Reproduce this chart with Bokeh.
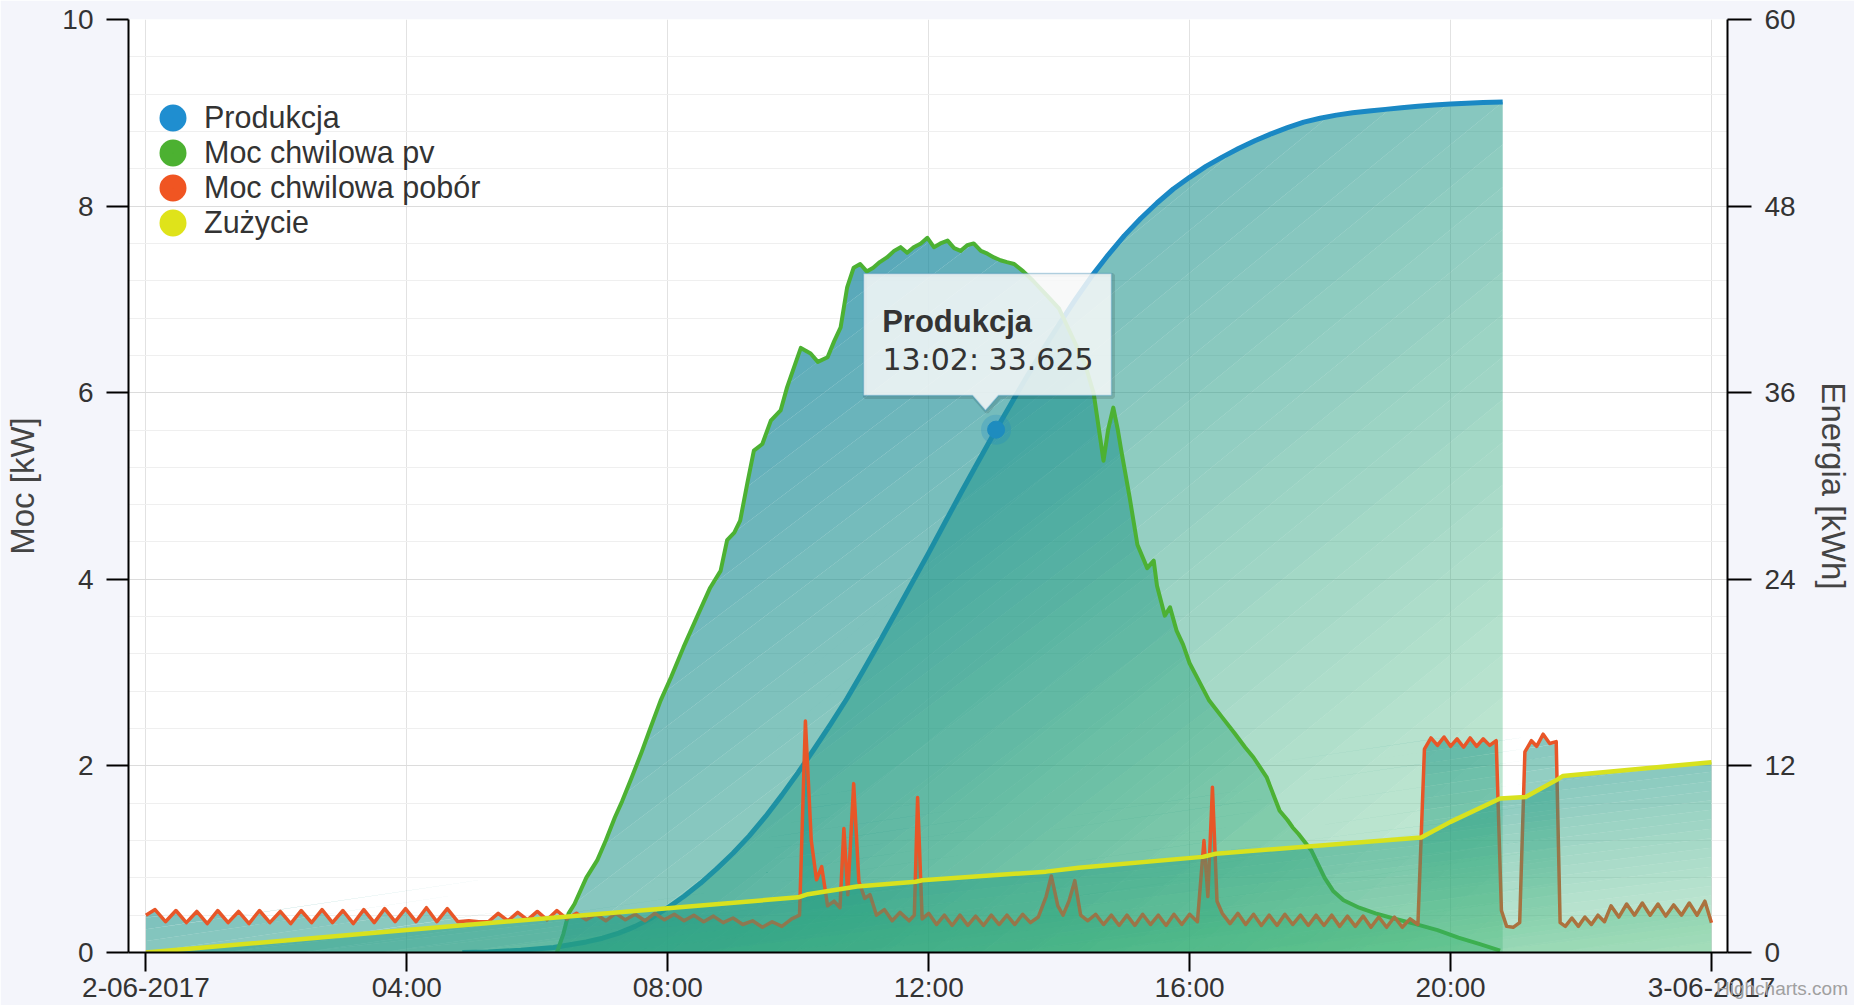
from bokeh.plotting import figure
from bokeh.layouts import column
from bokeh.models import (Range1d, LinearAxis, FixedTicker, SingleIntervalTicker, Div,
                          Legend, LegendItem, PolyAnnotation, Label, ColumnDataSource)
from bokeh.embed import file_html
from bokeh.resources import INLINE

# ---------------- data (hours of the day, values) ----------------
# Produkcja: cumulative PV energy [kWh] (right axis)
produkcja_points = [
    (4.85, 0.00), (5.25, 0.04), (5.75, 0.14), (6.25, 0.32), (6.50, 0.50), (6.75, 0.68),
    (7.00, 0.92), (7.25, 1.25), (7.50, 1.68), (7.75, 2.22), (8.00, 2.88), (8.25, 3.62),
    (8.50, 4.45), (8.75, 5.38), (9.00, 6.38), (9.25, 7.50), (9.50, 8.75), (9.75, 10.12),
    (10.00, 11.58), (10.25, 13.12), (10.50, 14.70), (10.75, 16.35), (11.00, 18.15),
    (11.25, 20.00), (11.50, 21.90), (11.75, 23.80), (12.00, 25.70), (12.25, 27.65),
    (12.50, 29.60), (12.75, 31.50), (13.0333, 33.625), (13.25, 35.20), (13.50, 37.00),
    (13.75, 38.75), (14.00, 40.40), (14.25, 42.00), (14.50, 43.50), (14.75, 44.85),
    (15.00, 46.10), (15.25, 47.20), (15.50, 48.20), (15.75, 49.10), (16.00, 49.85),
    (16.25, 50.55), (16.50, 51.15), (16.75, 51.70), (17.00, 52.20), (17.25, 52.65),
    (17.50, 53.05), (17.75, 53.40), (18.00, 53.65), (18.25, 53.85), (18.50, 54.00),
    (18.75, 54.12), (19.00, 54.22), (19.25, 54.32), (19.50, 54.42), (19.75, 54.50),
    (20.00, 54.57), (20.25, 54.62), (20.50, 54.66), (20.80, 54.70),
]

# Moc chwilowa pv [kW] (left axis)
pv_hours = [6.30, 6.40, 6.48, 6.57, 6.75, 6.92, 7.05, 7.19, 7.30, 7.45, 7.60, 7.72, 7.89, 8.05,
            8.24, 8.45, 8.65, 8.81, 8.91, 9.02, 9.11, 9.22, 9.32, 9.45, 9.58, 9.73, 9.83, 9.95,
            10.04, 10.19, 10.30, 10.45, 10.55, 10.65, 10.75, 10.85, 10.95, 11.05, 11.15, 11.25,
            11.36, 11.47, 11.57, 11.67, 11.77, 11.88, 11.98, 12.08, 12.18, 12.29, 12.39, 12.49,
            12.59, 12.69, 12.80, 12.90, 13.00, 13.10, 13.20, 13.31, 13.45, 13.60, 13.80, 14.00,
            14.20, 14.40, 14.53, 14.68, 14.75, 14.83, 14.90, 14.95, 15.08, 15.20, 15.35, 15.45,
            15.50, 15.62, 15.70, 15.80, 15.90, 16.00, 16.15, 16.30, 16.50, 16.69, 16.85, 16.98,
            17.18, 17.38, 17.50, 17.58, 17.67, 17.87, 18.07, 18.20, 18.36, 18.60, 18.85, 19.10,
            19.44, 19.80, 20.12, 20.45, 20.76]
pv_kw = [0.00, 0.20, 0.42, 0.52, 0.80, 0.99, 1.20, 1.45, 1.62, 1.88, 2.15, 2.38, 2.70, 2.95,
         3.27, 3.60, 3.91, 4.09, 4.42, 4.50, 4.63, 5.03, 5.38, 5.45, 5.70, 5.81, 6.06, 6.30,
         6.48, 6.42, 6.33, 6.38, 6.55, 6.70, 7.13, 7.34, 7.38, 7.30, 7.34, 7.40,
         7.45, 7.52, 7.56, 7.50, 7.56, 7.60, 7.66, 7.56, 7.60, 7.63, 7.55, 7.52,
         7.58, 7.60, 7.52, 7.49, 7.45, 7.42, 7.40, 7.38, 7.30, 7.20, 7.05, 6.90,
         6.60, 6.30, 5.99, 5.27, 5.60, 5.84, 5.60, 5.39, 4.88, 4.37, 4.12, 4.20,
         3.93, 3.61, 3.70, 3.45, 3.30, 3.10, 2.90, 2.70, 2.52, 2.35, 2.20, 2.09,
         1.88, 1.52, 1.42, 1.34, 1.27, 1.09, 0.80, 0.66, 0.56, 0.48, 0.42, 0.37,
         0.31, 0.24, 0.16, 0.09, 0.02]

# Moc chwilowa pobór [kW] (left axis)
pobor_points = [
    (0.00, 0.40), (0.14, 0.46), (0.30, 0.33), (0.46, 0.45), (0.62, 0.32), (0.78, 0.44),
    (0.94, 0.31), (1.10, 0.45), (1.26, 0.32), (1.42, 0.44), (1.58, 0.31), (1.74, 0.45),
    (1.90, 0.32), (2.06, 0.44), (2.22, 0.31), (2.38, 0.45), (2.54, 0.32), (2.70, 0.46),
    (2.86, 0.32), (3.02, 0.45), (3.18, 0.31), (3.34, 0.46), (3.50, 0.32), (3.66, 0.47),
    (3.82, 0.33), (3.98, 0.47), (4.14, 0.33), (4.30, 0.48), (4.46, 0.33), (4.62, 0.47),
    (4.78, 0.33), (4.95, 0.34), (5.10, 0.33), (5.25, 0.33), (5.40, 0.42), (5.55, 0.34),
    (5.70, 0.43), (5.85, 0.35), (6.00, 0.44), (6.15, 0.35), (6.30, 0.45), (6.45, 0.36),
    (6.60, 0.42), (6.75, 0.35), (6.90, 0.41), (7.05, 0.34), (7.20, 0.42), (7.35, 0.35),
    (7.50, 0.41), (7.65, 0.34), (7.80, 0.42), (7.95, 0.35), (8.10, 0.41), (8.25, 0.34),
    (8.40, 0.40), (8.55, 0.33), (8.70, 0.39), (8.85, 0.32), (9.00, 0.37), (9.15, 0.30),
    (9.30, 0.34), (9.45, 0.27), (9.60, 0.33), (9.75, 0.28), (9.90, 0.36), (10.02, 0.40),
    (10.11, 2.48), (10.20, 1.20), (10.28, 0.78), (10.36, 0.92), (10.45, 0.50), (10.55, 0.55),
    (10.64, 0.48), (10.70, 1.33), (10.76, 0.62), (10.85, 1.81), (10.93, 0.76), (11.02, 0.58),
    (11.10, 0.62), (11.20, 0.40), (11.32, 0.46), (11.44, 0.34), (11.56, 0.43), (11.70, 0.34),
    (11.78, 0.40), (11.83, 1.66), (11.90, 0.36), (12.00, 0.42), (12.12, 0.30), (12.24, 0.40),
    (12.36, 0.29), (12.48, 0.40), (12.60, 0.29), (12.72, 0.39), (12.84, 0.29), (12.96, 0.40),
    (13.08, 0.30), (13.20, 0.40), (13.32, 0.30), (13.44, 0.41), (13.56, 0.32), (13.68, 0.38),
    (13.80, 0.60), (13.88, 0.82), (13.98, 0.50), (14.06, 0.40), (14.15, 0.55), (14.24, 0.77),
    (14.33, 0.40), (14.44, 0.34), (14.56, 0.41), (14.68, 0.30), (14.80, 0.40), (14.92, 0.29),
    (15.04, 0.40), (15.16, 0.29), (15.28, 0.41), (15.40, 0.30), (15.52, 0.40), (15.64, 0.29),
    (15.76, 0.41), (15.88, 0.30), (16.00, 0.41), (16.12, 0.33), (16.22, 1.20), (16.28, 0.60),
    (16.35, 1.77), (16.42, 0.55), (16.50, 0.42), (16.62, 0.31), (16.74, 0.42), (16.86, 0.30),
    (16.98, 0.41), (17.10, 0.29), (17.22, 0.40), (17.34, 0.29), (17.46, 0.41), (17.58, 0.30),
    (17.70, 0.40), (17.82, 0.29), (17.94, 0.40), (18.06, 0.29), (18.18, 0.40), (18.30, 0.28),
    (18.42, 0.39), (18.54, 0.28), (18.66, 0.39), (18.78, 0.27), (18.90, 0.38), (19.02, 0.27),
    (19.14, 0.38), (19.26, 0.27), (19.38, 0.36), (19.50, 0.30), (19.60, 2.18), (19.70, 2.30),
    (19.80, 2.22), (19.90, 2.31), (20.00, 2.21), (20.10, 2.29), (20.20, 2.20), (20.30, 2.30),
    (20.40, 2.21), (20.50, 2.29), (20.60, 2.22), (20.70, 2.27), (20.78, 0.45), (20.86, 0.28),
    (20.96, 0.27), (21.06, 0.32), (21.14, 2.15), (21.24, 2.27), (21.32, 2.21), (21.42, 2.34),
    (21.52, 2.24), (21.62, 2.26), (21.68, 0.32), (21.76, 0.28), (21.86, 0.37), (21.96, 0.28),
    (22.06, 0.38), (22.16, 0.30), (22.26, 0.40), (22.36, 0.33), (22.46, 0.50), (22.58, 0.38),
    (22.70, 0.52), (22.82, 0.40), (22.94, 0.53), (23.06, 0.40), (23.18, 0.52), (23.30, 0.39),
    (23.42, 0.51), (23.54, 0.40), (23.66, 0.53), (23.78, 0.40), (23.90, 0.55), (24.00, 0.32),
]

# Zużycie: cumulative consumption [kWh] (right axis)
zuzycie_points = [
    (0.00, 0.00), (4.00, 1.45), (8.00, 2.85), (10.00, 3.55), (10.15, 3.75), (10.90, 4.25),
    (11.80, 4.55), (11.90, 4.65), (13.80, 5.20), (14.30, 5.45), (16.20, 6.15), (16.40, 6.35),
    (19.55, 7.40), (20.00, 8.40), (20.76, 9.90), (21.15, 10.00), (21.65, 11.15),
    (21.72, 11.35), (24.00, 12.24),
]

series_names = ["Produkcja", "Moc chwilowa pv", "Moc chwilowa pobór", "Zużycie"]
x_tick_hours = [0, 4, 8, 12, 16, 20, 24]
x_tick_labels = ["2-06-2017", "04:00", "08:00", "12:00", "16:00", "20:00", "3-06-2017"]
energy_ticks = [0, 12, 24, 36, 48, 60]
credit_text = "Highcharts.com"

# ---------------- styling ----------------
line_colors = ["#1a88c4", "#4cb133", "#e85628", "#d8e21e"]
legend_colors = ["#1f8ed0", "#4cb131", "#f05522", "#dfe31a"]
line_widths = [5, 4, 3.5, 4.5]
FONT = "Liberation Sans"
X_MIN, X_MAX = -0.267, 24.246
FRAME_W, FRAME_H = 1599, 933
KW_MAX, KWH_MAX = 10, 60

p = figure(width=1854, height=1005, x_range=Range1d(X_MIN, X_MAX), y_range=Range1d(0, KW_MAX),
           output_backend="svg", toolbar_location=None,
           min_border_left=128, min_border_right=127, min_border_top=19, min_border_bottom=53,
           background_fill_color="#ffffff", border_fill_color="#f4f5fb", outline_line_color=None)
p.extra_y_ranges = {"energy": Range1d(0, KWH_MAX)}
right_axis = LinearAxis(y_range_name="energy", axis_label="Energia [kWh]",
                        ticker=FixedTicker(ticks=energy_ticks))
p.add_layout(right_axis, "right")

p.xaxis.ticker = FixedTicker(ticks=x_tick_hours)
p.xaxis.major_label_overrides = {h: s for h, s in zip(x_tick_hours, x_tick_labels)}
left_ticker = SingleIntervalTicker(interval=2, num_minor_ticks=5)
p.yaxis[0].ticker = left_ticker
p.yaxis[0].axis_label = "Moc [kW]"
p.ygrid.ticker = left_ticker

for ax in list(p.xaxis) + list(p.yaxis):
    ax.axis_line_color = "black"
    ax.axis_line_width = 2
    ax.major_tick_line_color = "black"
    ax.major_tick_line_width = 2
    ax.major_tick_in = 0
    ax.minor_tick_in = 0
    ax.minor_tick_out = 0
    ax.major_label_text_font = FONT
    ax.major_label_text_font_size = "28px"
    ax.major_label_text_color = "#333333"
    ax.axis_label_text_font = FONT
    ax.axis_label_text_font_size = "33px"
    ax.axis_label_text_font_style = "normal"
    ax.axis_label_text_color = "#444444"
p.yaxis[0].major_tick_out = 22
p.yaxis[0].major_label_standoff = 13
p.yaxis[0].axis_label_standoff = 18
right_axis.major_tick_out = 24
right_axis.major_label_standoff = 13
right_axis.axis_label_standoff = 16
p.xaxis.major_tick_out = 19
p.xaxis.major_label_standoff = 0

p.xgrid.grid_line_color = "#e2e2e2"
p.ygrid.grid_line_color = "#dcdcdc"
p.ygrid.minor_grid_line_color = "#efefef"


# ------------- diagonal gradient fill (bounding-box based) -------------
def clip_half(poly, a, b, c):
    out = []
    n = len(poly)
    for i in range(n):
        P, Q = poly[i], poly[(i + 1) % n]
        fp = a * P[0] + b * P[1] - c
        fq = a * Q[0] + b * Q[1] - c
        if fp >= 0:
            out.append(P)
        if (fp >= 0) != (fq >= 0):
            t = fp / (fp - fq)
            out.append((P[0] + t * (Q[0] - P[0]), P[1] + t * (Q[1] - P[1])))
    return out


C0, C1 = (18, 125, 172), (50, 180, 100)
A0, A1 = 0.82, 0.25


def gradient_source(hours, vals, nstripes=40):
    x_lo, x_hi = hours[0], hours[-1]
    w = x_hi - x_lo
    ymax = max(vals)
    poly = [((x - x_lo) / w, (ymax - y) / ymax) for x, y in zip(hours, vals)]
    poly += [(1.0, 1.0), (0.0, 1.0)]
    xs, ys, cols, alps = [], [], [], []
    for k in range(nstripes):
        t0, t1 = k / nstripes, (k + 1) / nstripes
        pc = clip_half(poly, 1, 1, 2 * t0)
        pc = clip_half(pc, -1, -1, -2 * t1)
        if len(pc) < 3:
            continue
        xs.append([x_lo + u * w for u, v in pc])
        ys.append([ymax - v * ymax for u, v in pc])
        tm = (t0 + t1) / 2
        c = tuple(int(round(C0[i] + (C1[i] - C0[i]) * tm)) for i in range(3))
        cols.append("#%02x%02x%02x" % c)
        alps.append(A0 + (A1 - A0) * tm)
    return ColumnDataSource(dict(xs=xs, ys=ys, color=cols, alpha=alps))


series = [
    (produkcja_points, "energy"),
    (list(zip(pv_hours, pv_kw)), "default"),
    (pobor_points, "default"),
    (zuzycie_points, "energy"),
]
for i, (pts, rng) in enumerate(series):
    hours = [h for h, _ in pts]
    vals = [v for _, v in pts]
    p.patches("xs", "ys", source=gradient_source(hours, vals), fill_color="color",
              fill_alpha="alpha", line_color=None, y_range_name=rng)
    p.line(hours, vals, line_color=line_colors[i], line_width=line_widths[i],
           line_join="round", y_range_name=rng)

# ------------- hovered point + tooltip -------------
m_idx = [h for h, _ in produkcja_points].index(13.0333)
mh, mv = produkcja_points[m_idx]
p.scatter([mh], [mv], size=30, fill_color=line_colors[0], fill_alpha=0.25, line_color=None,
          y_range_name="energy")
p.scatter([mh], [mv], size=17, fill_color="#1e8cbf", line_color="#1e8cbf", y_range_name="energy")

px_h = (X_MAX - X_MIN) / FRAME_W
px_kw = KW_MAX / FRAME_H
mkw = mv * KW_MAX / KWH_MAX


def off(dx, dy):
    return mh + dx * px_h, mkw + dy * px_kw


L, R, T, B = -132.6, 115.4, 156.1, 34.1
shape = [(L, T), (R, T), (R, B), (2.4, B), (-10.6, 19.1), (-23.6, B), (L, B)]
shadow = [off(dx + 1.5, dy - 1.5) for dx, dy in shape]
p.add_layout(PolyAnnotation(xs=[q[0] for q in shadow], ys=[q[1] for q in shadow],
                            fill_alpha=0, line_color="black", line_alpha=0.12, line_width=4))
box = [off(dx, dy) for dx, dy in shape]
p.add_layout(PolyAnnotation(xs=[q[0] for q in box], ys=[q[1] for q in box],
                            fill_color="#f7f8f8", fill_alpha=0.86,
                            line_color="#2a8fc4", line_width=1.5))
tx, ty = off(-113.9, 108.1)
p.add_layout(Label(x=tx, y=ty, text=series_names[0], text_font=FONT, text_font_style="bold",
                   text_font_size="31px", text_color="#333333", text_baseline="alphabetic"))
hh = int(mh)
mm = int(round((mh - hh) * 60))
tx, ty = off(-113.6, 70.1)
p.add_layout(Label(x=tx, y=ty, text=f"{hh:02d}:{mm:02d}: {mv:g}", text_font="DejaVu Sans",
                   text_font_size="30px", text_color="#333333", text_baseline="alphabetic"))

# ------------- legend (round markers) -------------
items = []
for name, col in zip(series_names, legend_colors):
    r = p.scatter(x=[float("nan")], y=[float("nan")], size=14, fill_color=col,
                  line_color=col, line_width=13)
    items.append(LegendItem(label=name, renderers=[r]))
legend = Legend(items=items, location=(27, 712), orientation="vertical",
                glyph_width=35, glyph_height=35, label_height=35, spacing=0, padding=0,
                margin=0, label_standoff=14, border_line_color=None, background_fill_alpha=0,
                label_text_font=FONT, label_text_font_size="30.5px", label_text_color="#333333")
p.add_layout(legend)

# ------------- credits text below the right end of the axis -------------
credit = Div(text=credit_text, width=136, height=26, margin=(-30, 0, 0, 1716),
             styles={"color": "#a0a0a0", "font-family": FONT, "font-size": "19px",
                     "white-space": "nowrap", "overflow": "hidden"})

page = column(p, credit, spacing=0)
open("out.html", "w").write(file_html(page, INLINE))
